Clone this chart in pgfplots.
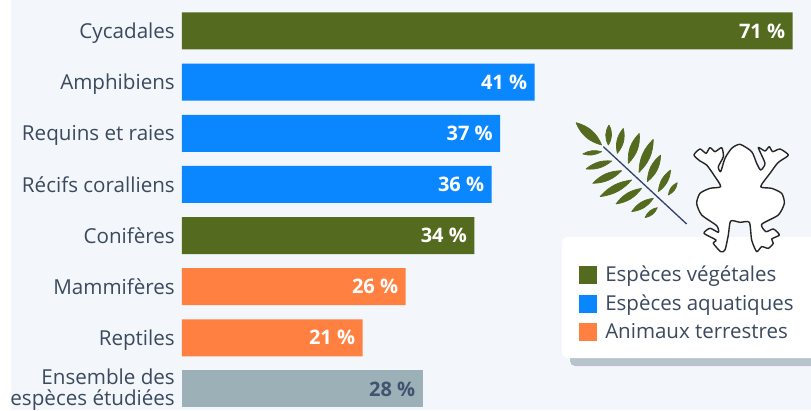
\documentclass[border=0pt]{standalone}
\usepackage{pgfplots}
\pgfplotsset{compat=1.18}
\usepackage{fontspec}
\setmainfont{Open Sans}
\definecolor{bgc}{HTML}{F3F6FA}
\definecolor{plantc}{HTML}{546B1F}
\definecolor{aquac}{HTML}{0A87FF}
\definecolor{landc}{HTML}{FF8040}
\definecolor{allc}{HTML}{9CB0B8}
\definecolor{txtc}{HTML}{3B4A5E}
\definecolor{allt}{HTML}{40546F}
\definecolor{shadowc}{HTML}{B9C3CC}
\definecolor{stemc}{HTML}{2F4468}
\newcommand\lab[1]{\rule[-4pt]{0pt}{22pt}#1}
\begin{document}
\begin{tikzpicture}[x=1pt,y=1pt]
\path[use as bounding box,clip] (0,0) rectangle (811,410);
\fill[white] (0,0) rectangle (811,410);
\fill[bgc] (11,0) rectangle (811,410);
% legend box
\fill[shadowc,rounded corners=5pt] (570,44) rectangle (830,120);
\fill[white,rounded corners=6pt] (562,52) rectangle (830,173);
\begin{axis}[
    at={(0,0)},anchor=south west,
    width=811pt,height=410pt,scale only axis,
    xmin=-21.16,xmax=73.14,
    ymin=-0.606,ymax=7.411,
    y dir=reverse,
    xbar,bar shift=0pt,bar width=37pt,
    axis x line=none,
    axis y line=left,
    y axis line style={draw=none},
    major tick length=0pt,
    /pgf/number format/assume math mode=true,
    ytick={0,1,2,3,4,5,6,7},
    yticklabels={\lab{Cycadales},\lab{Amphibiens},\lab{Requins et raies},\lab{Récifs coralliens},\lab{Conifères},\lab{Mammifères},\lab{Reptiles},{Ensemble des\\espèces étudiées}},
    yticklabel style={font=\fontsize{20.6}{21}\selectfont,text=txtc,xshift=175pt,yshift=-1pt,align=right,anchor=east,inner sep=0pt},
    point meta=x,
    nodes near coords={\pgfmathprintnumber{\pgfplotspointmeta} \%},
    nodes near coords align={anchor=east},
    every node near coord/.append style={font=\fontsize{20}{23}\selectfont\bfseries,text=white,xshift=-4pt},
    legend cell align=left,
    legend style={at={(0.714,0.356)},anchor=north west,draw=none,fill=none,
      font=\fontsize{20.5}{23}\selectfont,text=txtc,inner sep=0pt,row sep=7.5pt},
    legend image code/.code={\fill[#1] (0pt,-9pt) rectangle (18pt,9pt);\path (24pt,0pt);},
]
\addplot[fill=plantc,draw=none] coordinates {(71,0)(34,4)};
\addplot[fill=aquac,draw=none] coordinates {(41,1)(37,2)(36,3)};
\addplot[fill=landc,draw=none] coordinates {(26,5)(21,6)};
\addplot[fill=allc,draw=none,forget plot,every node near coord/.append style={text=allt}] coordinates {(28,7)};
\legend{Espèces végétales,Espèces aquatiques,Animaux terrestres}
\end{axis}
% icons, coordinates taken from the zoomed crops
\begin{scope}[shift={(540,310)},x=0.3333pt,y=-0.3333pt]
\foreach \ax/\ay/\bx/\by/\w in {108/68/185/135/26,207/75/205/135/30,250/85/232/160/26,298/100/265/190/24,340/118/297/217/22,362/165/322/245/24,392/210/355/275/24,412/248/385/285/28,128/162/185/155/22,138/207/215/183/22,158/250/245/212/22,180/290/275/240/20,228/312/305/265/22,275/335/340/295/24,315/353/352/323/28}
  \filldraw[plantc,line width=0.7pt,line join=round] (\ax,\ay) to[bend left=\w] (\bx,\by) to[bend left=\w] (\ax,\ay);
\draw[stemc,line width=1.3pt] (190,140) -- (440,372);
\end{scope}
\begin{scope}[shift={(690,275)},x=0.3333pt,y=-0.3333pt]
\draw[fill=white,draw=black!85,line width=1.4pt,line join=round]
 plot[smooth cycle,tension=0.4] coordinates {
 (150,28) (185,50) (200,85) (212,105) (225,85) (205,38) (225,48) (238,35) (248,50) (270,42) (295,60) (275,75) (262,85) (240,115) (212,155)
 (245,160) (275,175) (283,205) (265,240) (215,268) (228,290) (250,282) (268,300) (245,312) (250,325) (235,340) (215,335) (200,350) (185,315) (178,262) (150,262) (122,258)
 (115,300) (105,345) (92,350) (70,325) (78,315) (42,295) (60,280) (85,292) (80,272) (35,240) (20,205) (30,175) (60,160) (92,155)
 (75,125) (50,90) (30,78) (12,60) (30,42) (48,55) (60,38) (75,50) (95,38) (100,65) (85,95) (92,110) (105,70) (125,40)};
\end{scope}
\end{tikzpicture}
\end{document}
